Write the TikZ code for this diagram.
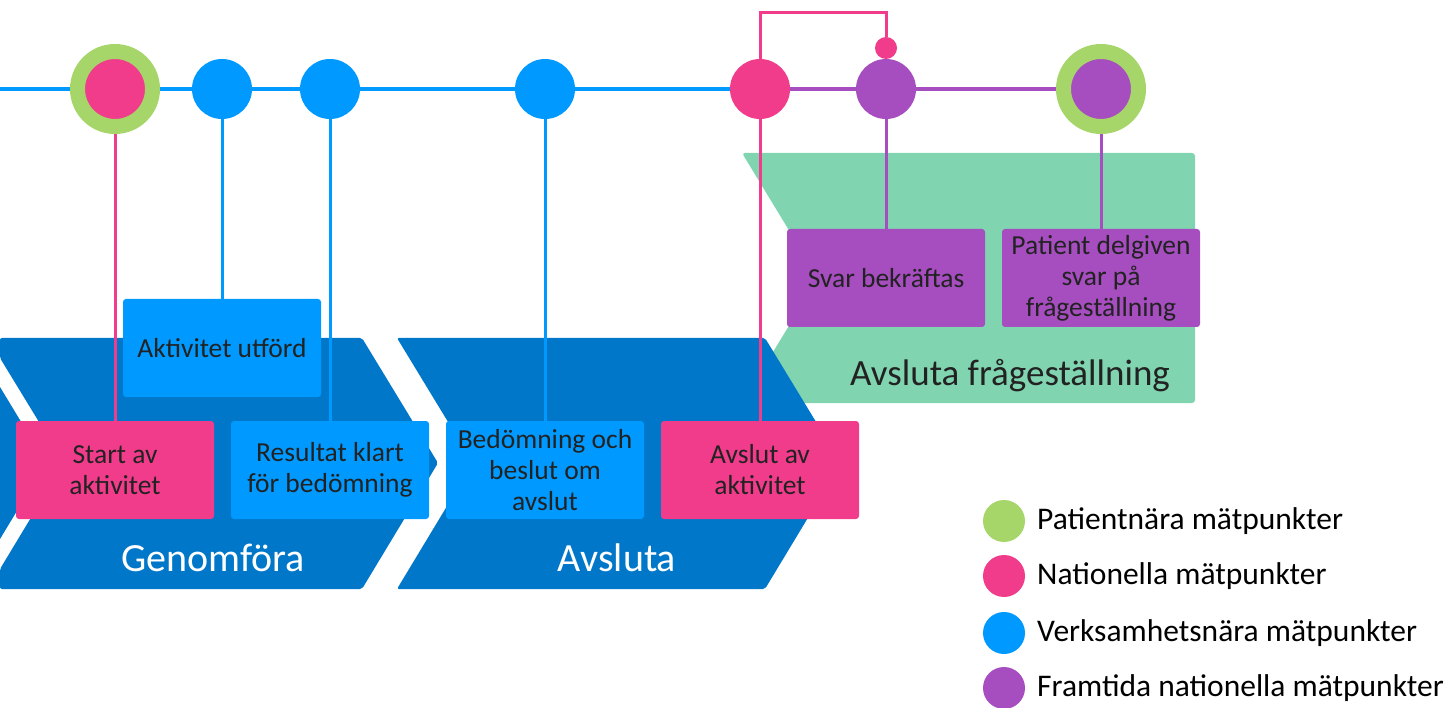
\documentclass[tikz,border=0pt]{standalone}
\usepackage{fontspec}
\setmainfont{Carlito}
\definecolor{ptblue}{HTML}{0099FF}
\definecolor{ptpink}{HTML}{F03C8A}
\definecolor{ptpurple}{HTML}{A64DBF}
\definecolor{ptgreen}{HTML}{A6D66A}
\definecolor{phaseblue}{HTML}{0077C8}
\definecolor{phasegreen}{HTML}{80D4B0}
\definecolor{textdark}{HTML}{222222}

\begin{document}
\begin{tikzpicture}[x=1pt, y=-1pt,
  dot/.style={circle, inner sep=0pt, minimum size=60pt},
  ring/.style={dot, draw=ptgreen, line width=15pt, minimum size=75pt},
  pin/.style={circle, inner sep=0pt, minimum size=22pt, fill=ptpink},
  box/.style={rectangle, rounded corners=3pt, minimum width=198pt, minimum height=98pt,
    align=center, inner sep=0pt, text=textdark,
    font=\fontsize{27.5}{31}\selectfont},
  phase/.style={inner sep=0pt, font=\fontsize{40}{44}\selectfont},
  conn/.style={line width=3pt},
  mainline/.style={line width=3.5pt},
  legenddot/.style={circle, inner sep=0pt, minimum size=42pt},
  legendtext/.style={anchor=west, inner sep=0pt, text=black, font=\fontsize{31.5}{34}\selectfont},
  ]
\def\d{76}
\useasboundingbox (0,0) rectangle (1448,708);

\fill[phasegreen, rounded corners=3pt] (742,153) -- (1195,153) -- (1195,403) -- (742,403) -- (742+\d,278) -- cycle;
\fill[phaseblue] (0,387) -- (46,463) -- (0,539) -- cycle;
\fill[phaseblue, rounded corners=2pt] (0,338) -- (362,338) -- (362+\d,463) -- (362,589) -- (0,589) -- (0,569) -- (64,463) -- (0,358) -- cycle;
\fill[phaseblue, rounded corners=2pt] (397,338) -- (765,338) -- (765+\d,463) -- (765,589) -- (397,589) -- (397+\d,463) -- cycle;

\node[phase, text=white] (genomfora) at (213,558) {Genomföra};
\node[phase, text=white] (avsluta) at (617,558) {Avsluta};
\node[phase, text=textdark, font=\fontsize{37}{40}\selectfont] (avslutafraga) at (1010,376) {Avsluta frågeställning};

\coordinate (lstart) at (0,89);
\coordinate (top) at (0,13);
\node[ring, fill=ptpink] (c1) at (115,89) {};
\node[dot, fill=ptblue] (c2) at (222,89) {};
\node[dot, fill=ptblue] (c3) at (330,89) {};
\node[dot, fill=ptblue] (c4) at (545,89) {};
\node[dot, fill=ptpink] (c5) at (760,89) {};
\node[dot, fill=ptpurple] (c6) at (886,89) {};
\node[ring, fill=ptpurple] (c7) at (1101,89) {};
\node[pin] (p6) at (886,48) {};

\node[box, fill=ptblue] (utford) at (222,348) {Aktivitet utförd};
\node[box, fill=ptpink] (start) at (115,470) {Start av\\aktivitet};
\node[box, fill=ptblue] (resultat) at (330,470) {Resultat klart\\för bedömning};
\node[box, fill=ptblue] (bedomning) at (545,470) {Bedömning och\\beslut om\\avslut};
\node[box, fill=ptpink] (avslut) at (760,470) {Avslut av\\aktivitet};
\node[box, fill=ptpurple] (svar) at (886,278) {Svar bekräftas};
\node[box, fill=ptpurple] (delgiven) at (1101,278) {Patient delgiven\\svar på\\frågeställning};

\draw[mainline, ptblue] (lstart) -- (c1) -- (c2) -- (c3) -- (c4) -- (c5);
\draw[mainline, ptpurple] (c5) -- (c6) -- (c7);
\draw[conn, ptpink] (c5) -- (c5 |- top) -| (p6);

\draw[conn, ptpink] (c1) -- (start);
\draw[conn, ptblue] (c2) -- (utford);
\draw[conn, ptblue] (c3) -- (resultat);
\draw[conn, ptblue] (c4) -- (bedomning);
\draw[conn, ptpink] (c5) -- (avslut);
\draw[conn, ptpurple] (c6) -- (svar);
\draw[conn, ptpurple] (c7) -- (delgiven);

\node[legenddot, fill=ptgreen] (lg1) at (1004,521) {};
\node[legenddot, fill=ptpink] (lg2) at (1004,576) {};
\node[legenddot, fill=ptblue] (lg3) at (1004,633) {};
\node[legenddot, fill=ptpurple] (lg4) at (1004,688) {};
\node[legendtext] (lt1) at (1037,521) {Patientnära mätpunkter};
\node[legendtext] (lt2) at (1037,576) {Nationella mätpunkter};
\node[legendtext] (lt3) at (1037,633) {Verksamhetsnära mätpunkter};
\node[legendtext] (lt4) at (1037,688) {Framtida nationella mätpunkter};
\end{tikzpicture}
\end{document}
